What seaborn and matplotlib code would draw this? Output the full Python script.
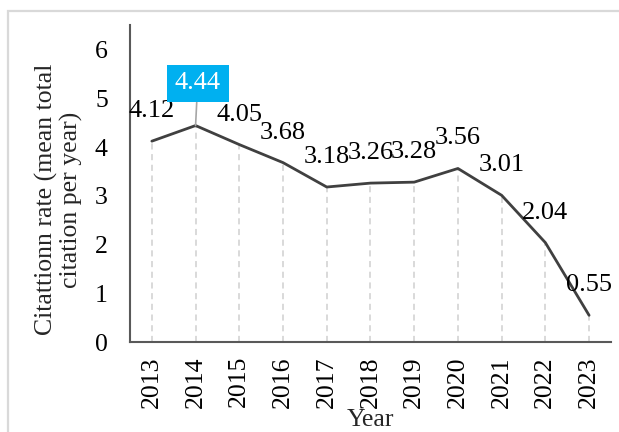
import matplotlib
matplotlib.use("Agg")
import matplotlib.pyplot as plt
import seaborn as sns
import pandas as pd
from matplotlib.patches import Rectangle

years = ["2013", "2014", "2015", "2016", "2017", "2018", "2019", "2020", "2021", "2022", "2023"]
rates = [4.12, 4.44, 4.05, 3.68, 3.18, 3.26, 3.28, 3.56, 3.01, 2.04, 0.55]
y_ticks = [0, 1, 2, 3, 4, 5, 6]
highlight_year = "2014"

sns.set_theme(style="white")
plt.rcParams["font.family"] = ["Liberation Serif", "DejaVu Serif"]

TICK_FS = 18.5
LABEL_FS = 19
YLABEL_FS = 18.5

df = pd.DataFrame({"Year": years, "Rate": rates})
df["pos"] = range(len(df))

fig = plt.figure(figsize=(6.19, 4.32), dpi=100)
ax = fig.add_axes([0.210, 0.208, 0.777, 0.734])

# light frame around the whole chart area
fig.patches.append(Rectangle((8 / 619, -0.05), 1.0, 1 - 11 / 432 + 0.05,
                             transform=fig.transFigure, fill=False,
                             edgecolor="#D9D9D9", linewidth=1.6, zorder=0))

# dashed drop lines from each point down to the axis
ax.vlines(df["pos"], 0, df["Rate"], colors="#D0D0D0", linestyles=(0, (4, 3)),
          linewidth=1.1, zorder=1)

sns.lineplot(data=df, x="pos", y="Rate", ax=ax, color="#404040",
             linewidth=2.0, zorder=3)

ax.set_xlim(-0.5, len(years) - 0.5)
ax.set_ylim(0, 6.5)
ax.set_yticks(y_ticks)
ax.set_yticklabels([str(t) for t in y_ticks], fontsize=TICK_FS, color="black")
ax.set_xticks(df["pos"])
ax.set_xticklabels(years, rotation=90, fontsize=TICK_FS, color="black")
ax.tick_params(axis="y", length=0, pad=16)
ax.tick_params(axis="x", length=0, pad=10)

for side in ["top", "right"]:
    ax.spines[side].set_visible(False)
for side in ["left", "bottom"]:
    ax.spines[side].set_color("#595959")
    ax.spines[side].set_linewidth(1.5)

ax.set_ylabel("Citattionn rate (mean total\ncitation per year)", fontsize=YLABEL_FS,
              linespacing=1.1)
ax.yaxis.set_label_coords(-0.098, 0.45)
ax.set_xlabel("Year", fontsize=TICK_FS, labelpad=1)

# value labels above each point
for p, yr, v in zip(df["pos"], years, rates):
    if yr == highlight_year:
        ax.annotate(f"{v:.2f}", xy=(p, v), xytext=(1.5, 26), textcoords="offset points",
                    ha="center", va="baseline", fontsize=LABEL_FS, color="white",
                    bbox=dict(boxstyle="square,pad=0.3", facecolor="#00B0F0",
                              edgecolor="none"),
                    arrowprops=dict(arrowstyle="-", color="#A6A6A6", lw=1.2,
                                    shrinkA=0, shrinkB=0),
                    zorder=5)
    else:
        ax.annotate(f"{v:.2f}", xy=(p, v), xytext=(0, 17.3), textcoords="offset points",
                    ha="center", va="baseline", fontsize=LABEL_FS, color="black", zorder=5)

fig.savefig("out.png", dpi=100, facecolor="white")
